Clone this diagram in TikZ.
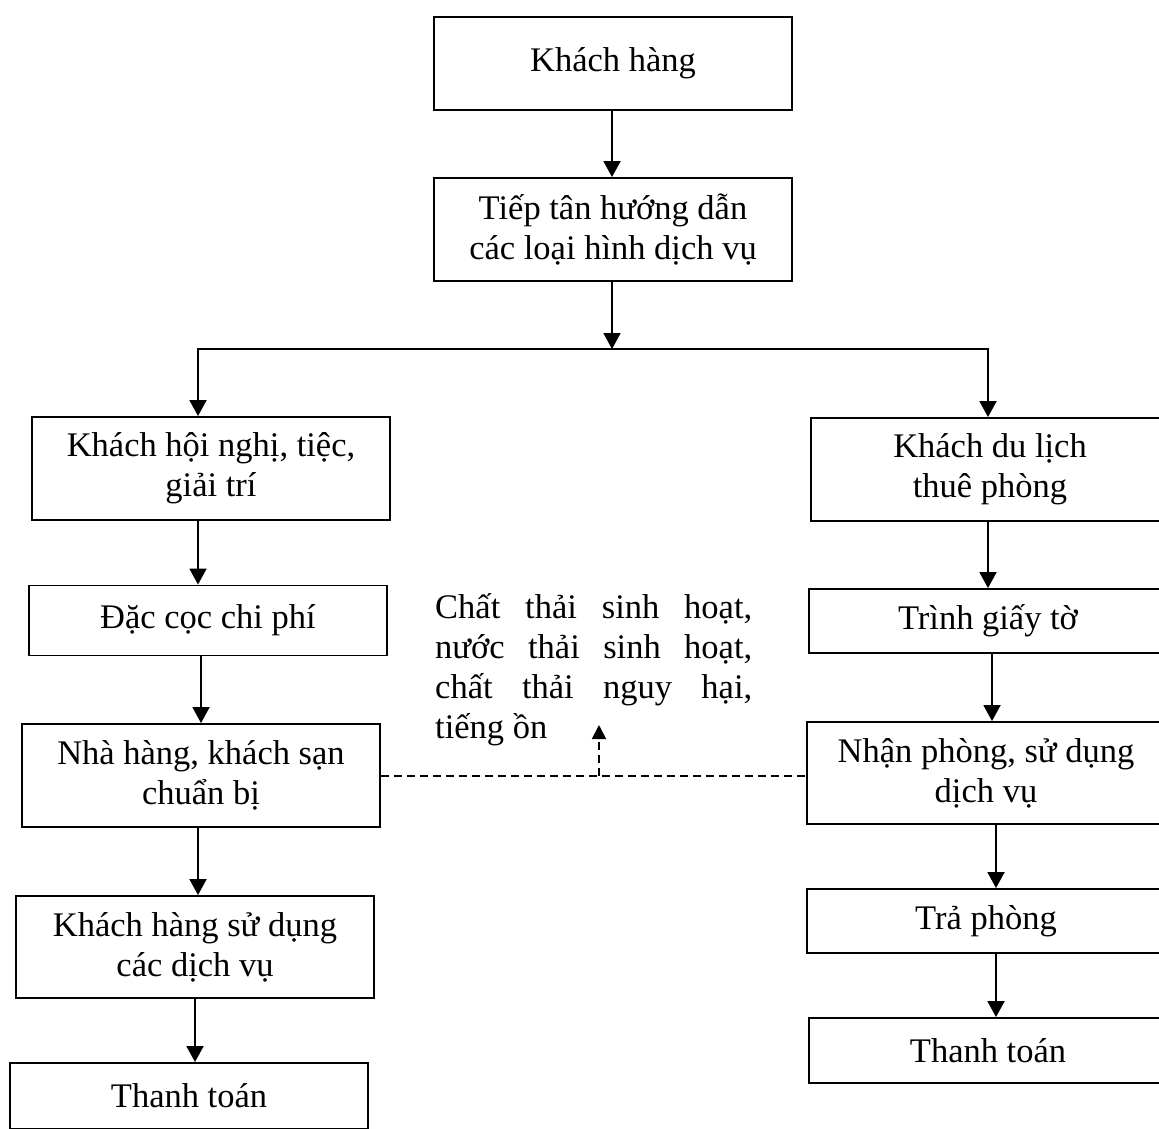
\documentclass[tikz,border=0pt]{standalone}
\usepackage{fontspec}
\setmainfont{Liberation Serif}
\usetikzlibrary{arrows.meta}
\begin{document}
\begin{tikzpicture}[x=1pt,y=-1pt,
  box/.style={draw=black, line width=1.9pt, rectangle, inner sep=0pt, align=center,
    font=\fontsize{34.5}{40}\selectfont, minimum width=358pt},
  arr/.style={line width=1.9pt, -{Triangle[length=16pt,width=17pt]}},
  dsh/.style={line width=1.9pt, dash pattern=on 8pt off 5pt}]
\useasboundingbox (0,0) rectangle (1159,1128);
\clip (0,0) rectangle (1159,1128);
% top
\node[box, minimum height=93pt] (kh) at (613,63.5) {Khách hàng};
\node[box, minimum height=103pt] (tt) at (613,229.5) {Tiếp tân hướng dẫn\\các loại hình dịch vụ};
% left column
\node[box, minimum height=103pt] (hn) at (211,468.5) {Khách hội nghị, tiệc,\\giải trí};
\node[box, minimum height=70pt] (dc) at (208,620.5) {Đặc cọc chi phí};
\node[box, minimum height=103pt] (nh) at (201,775.5) {Nhà hàng, khách sạn\\chuẩn bị};
\node[box, minimum height=102pt] (ks) at (195,947) {Khách hàng sử dụng\\các dịch vụ};
\node[box, minimum height=66pt] (tl) at (189,1096) {Thanh toán};
% right column
\node[box, minimum height=103pt] (dl) at (990,469.5) {Khách du lịch\\thuê phòng};
\node[box, minimum height=64pt] (tg) at (988,621) {Trình giấy tờ};
\node[box, minimum height=102pt] (np) at (986,773) {Nhận phòng, sử dụng\\dịch vụ};
\node[box, minimum height=64pt] (tp) at (986,921) {Trả phòng};
\node[box, minimum height=65pt] (ttr) at (988,1050.5) {Thanh toán};
% emissions text
\node[anchor=north west, inner sep=0pt, align=left, font=\fontsize{34.5}{40}\selectfont] (txt) at (435,593)
  {\makebox[317pt][s]{Chất thải sinh hoạt,}\\
   \makebox[317pt][s]{nước thải sinh hoạt,}\\
   \makebox[317pt][s]{chất thải nguy hại,}\\
   tiếng ồn};
% connectors
\draw[arr] (kh.south -| 612,0) -- (tt.north -| 612,0);
\coordinate (br) at (612,349);
\coordinate (bl) at (198,349);
\coordinate (bR) at (988,349);
\draw[arr] (tt.south -| br) -- (br);
\draw[line width=1.9pt, line cap=rect] (bl) -- (bR);
\draw[arr] (bl) -- (bl |- hn.north);
\draw[arr] (bR) -- (bR |- dl.north);
\draw[arr] (hn.south -| 198,0) -- (dc.north -| 198,0);
\draw[arr] (dc.south -| 201,0) -- (nh.north -| 201,0);
\draw[arr] (nh.south -| 198,0) -- (ks.north -| 198,0);
\draw[arr] (ks.south -| 195,0) -- (tl.north -| 195,0);
\draw[arr] (dl.south -| 988,0) -- (tg.north -| 988,0);
\draw[arr] (tg.south -| 992,0) -- (np.north -| 992,0);
\draw[arr] (np.south -| 996,0) -- (tp.north -| 996,0);
\draw[arr] (tp.south -| 996,0) -- (ttr.north -| 996,0);
% dashed
\coordinate (dj) at (599,776);
\coordinate (dtip) at (599,725);
\draw[dsh] (nh.east |- dj) -- (np.west |- dj);
\draw[dsh, -{Triangle[length=14pt,width=14pt]}] (dj) -- (dtip);
\end{tikzpicture}
\end{document}
